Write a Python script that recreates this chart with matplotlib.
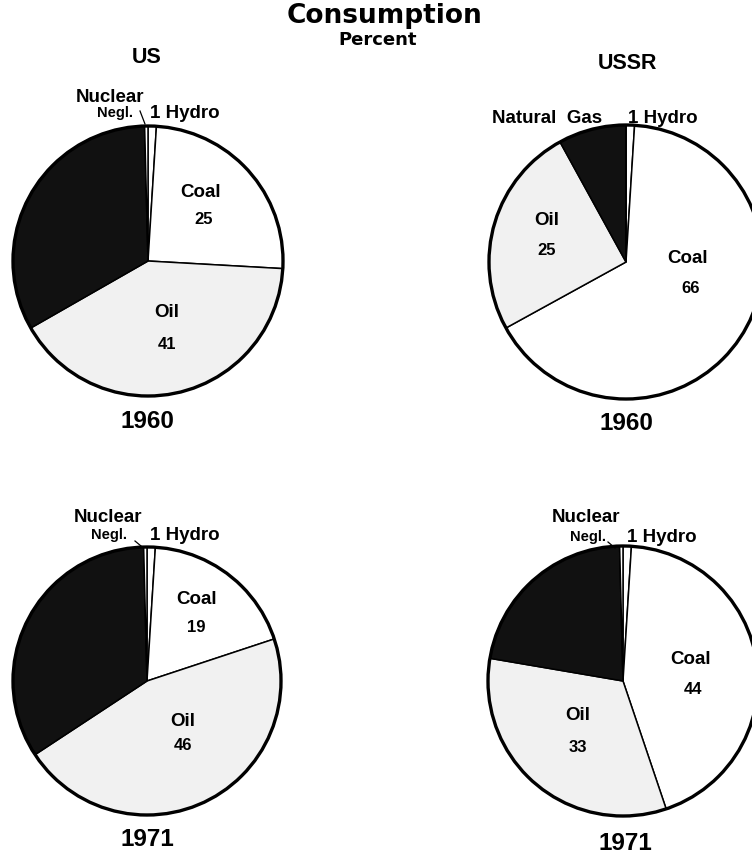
import matplotlib.pyplot as plt
from matplotlib.patches import Circle

# Energy consumption shares, percent (order: clockwise from 12 o'clock)
sources = ["Hydro", "Coal", "Oil", "Natural Gas", "Nuclear"]
us_1960 = [1, 25, 41, 33, 0.4]      # nuclear negligible
ussr_1960 = [1, 66, 25, 8, 0]
us_1971 = [1, 19, 46, 34, 0.4]      # nuclear negligible
ussr_1971 = [1, 44, 33, 22, 0.4]    # nuclear negligible

title = "Consumption"
subtitle = "Percent"
countries = ["US", "USSR"]
years = ["1960", "1971"]

W, H = 752, 856
fig = plt.figure(figsize=(W / 100, H / 100), dpi=100)
ax = fig.add_axes([0, 0, 1, 1])


def Y(y):
    """Convert a top-down pixel row into the axes' bottom-up coordinate."""
    return H - y


fill = {"Hydro": "white", "Coal": "white", "Oil": "#f1f1f1",
        "Natural Gas": "#111111", "Nuclear": "white"}
wedge_colors = [fill[s] for s in sources]

panels = [
    (us_1960, 148, 261, 135),
    (ussr_1960, 626, 262, 137),
    (us_1971, 147, 681, 134),
    (ussr_1971, 623, 681, 135),
]

for vals, cx, cy, r in panels:
    ax.pie(vals, colors=wedge_colors, startangle=90, counterclock=False,
           center=(cx, Y(cy)), radius=r,
           wedgeprops=dict(edgecolor="black", linewidth=1.1))
    ax.add_patch(Circle((cx, Y(cy)), r, fill=False, lw=2.4, ec="black", zorder=5))

ax.set_xlim(0, W)
ax.set_ylim(0, H)
ax.set_aspect("equal")
ax.axis("off")

FONT = "Liberation Sans"


def put(x, y, s, size, **kw):
    ax.text(x, Y(y), s, ha="center", va="center", fontsize=size,
            fontweight="bold", family=FONT, zorder=10, **kw)


# Heading
ax.text(385, Y(16), title, ha="center", va="center", fontsize=19,
        fontweight="bold", family="DejaVu Sans")
ax.text(378, Y(40), subtitle, ha="center", va="center", fontsize=13,
        fontweight="bold", family="DejaVu Sans")

# Column headings
put(147, 57, countries[0], 15.5)
put(627, 63, countries[1], 15.5)

# Year captions
put(147, 421, years[0], 17.5)
put(626, 423, years[0], 17.5)
put(147, 840, years[1], 17.5)
put(625, 843, years[1], 17.5)


def value_label(vals, name):
    v = vals[sources.index(name)]
    return f"{v:g}"


NUM = 12

# US 1960
put(110, 97, "Nuclear", 13.5)
put(115, 113, "Negl.", 10.5)
put(185, 113, f"{value_label(us_1960, 'Hydro')} Hydro", 13.5)
ax.plot([140, 145], [Y(111), Y(124)], color="black", lw=0.9, zorder=10)
put(201, 192, "Coal", 13.5)
put(204, 219, value_label(us_1960, "Coal"), NUM)
put(167, 312, "Oil", 13.5)
put(167, 344, value_label(us_1960, "Oil"), NUM)

# USSR 1960
put(547, 118, "Natural  Gas", 13.5)
put(663, 118, f"{value_label(ussr_1960, 'Hydro')} Hydro", 13.5)
put(547, 220, "Oil", 13.5)
put(547, 250, value_label(ussr_1960, "Oil"), NUM)
put(688, 258, "Coal", 13.5)
put(691, 288, value_label(ussr_1960, "Coal"), NUM)

# US 1971
put(108, 517, "Nuclear", 13.5)
put(109, 535, "Negl.", 10.5)
put(185, 535, f"{value_label(us_1971, 'Hydro')} Hydro", 13.5)
ax.plot([135, 141], [Y(541), Y(546)], color="black", lw=0.9, zorder=10)
put(197, 600, "Coal", 13.5)
put(196, 627, value_label(us_1971, "Coal"), NUM)
put(183, 721, "Oil", 13.5)
put(183, 745, value_label(us_1971, "Oil"), NUM)

# USSR 1971
put(586, 518, "Nuclear", 13.5)
put(588, 537, "Negl.", 10.5)
put(662, 537, f"{value_label(ussr_1971, 'Hydro')} Hydro", 13.5)
ax.plot([608, 615], [Y(542), Y(548)], color="black", lw=0.9, zorder=10)
put(691, 660, "Coal", 13.5)
put(693, 690, value_label(ussr_1971, "Coal"), NUM)
put(578, 716, "Oil", 13.5)
put(578, 747, value_label(ussr_1971, "Oil"), NUM)

fig.savefig("out.png", dpi=100, facecolor="white")
